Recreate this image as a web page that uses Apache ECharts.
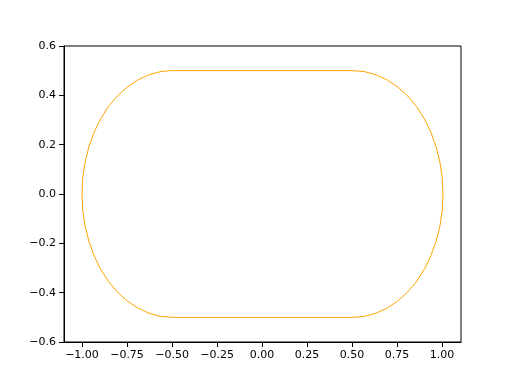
<!DOCTYPE html>
<html>
<head>
<meta charset="utf-8">
<script src="https://cdn.jsdelivr.net/npm/echarts@6/dist/echarts.min.js"></script>
<style>html,body{margin:0;padding:0;background:#fff}#c{width:512px;height:384px}</style>
</head>
<body>
<div id="c"></div>
<script>
// Outline points, in drawing order
var pathX = [-0.5, 0.505,
  0.505, 0.570, 0.634, 0.696, 0.755, 0.809, 0.859, 0.902, 0.938, 0.967, 0.988, 1.001, 1.005,
  1.001, 0.988, 0.967, 0.938, 0.902, 0.859, 0.809, 0.755, 0.696, 0.634, 0.570, 0.505,
  -0.5,
  -0.565, -0.629, -0.691, -0.75, -0.804, -0.854, -0.897, -0.933, -0.962, -0.983, -0.996, -1.0,
  -0.996, -0.983, -0.962, -0.933, -0.897, -0.854, -0.804, -0.75, -0.691, -0.629, -0.565, -0.51, -0.5];
var pathY = [0.5, 0.5,
  0.503, 0.496, 0.483, 0.462, 0.433, 0.397, 0.354, 0.304, 0.25, 0.191, 0.129, 0.065, 0.0,
  -0.065, -0.129, -0.191, -0.25, -0.304, -0.354, -0.397, -0.433, -0.462, -0.483, -0.496, -0.5,
  -0.5,
  -0.496, -0.483, -0.462, -0.433, -0.397, -0.354, -0.304, -0.25, -0.191, -0.129, -0.065, 0.0,
  0.065, 0.129, 0.191, 0.25, 0.304, 0.354, 0.397, 0.433, 0.462, 0.483, 0.496, 0.5, 0.5];
var xTicks = [-1.0, -0.75, -0.5, -0.25, 0.0, 0.25, 0.5, 0.75, 1.0];
var yTicks = [-0.6, -0.4, -0.2, 0.0, 0.2, 0.4, 0.6];

var pts = pathX.map(function (x, i) { return [x, pathY[i]]; });
function fmt(v, d) { var s = Math.abs(v).toFixed(d); return (v < -1e-9 ? '\u2212' : '') + s; }
var font = 'DejaVu Sans';
var chart = echarts.init(document.getElementById('c'), null, {renderer: 'canvas'});
chart.setOption({
  animation: false,
  backgroundColor: '#fff',
  grid: {left: 64, right: 51, top: 46, bottom: 42, show: true, borderColor: '#000', borderWidth: 1, backgroundColor: 'transparent'},
  xAxis: {
    type: 'value', min: -1.1, max: 1.105,
    axisLine: {show: true, onZero: false, lineStyle: {color: '#000', width: 1}},
    axisTick: {show: true, inside: false, length: 5, lineStyle: {color: '#000'}, customValues: xTicks},
    axisLabel: {color: '#000', fontFamily: font, fontSize: 11, margin: 8, customValues: xTicks,
      formatter: function (v) { return fmt(v, 2); }},
    splitLine: {show: false}
  },
  yAxis: {
    type: 'value', min: -0.6, max: 0.6,
    axisLine: {show: true, onZero: false, lineStyle: {color: '#000', width: 1}},
    axisTick: {show: true, inside: false, length: 5, lineStyle: {color: '#000'}, customValues: yTicks},
    axisLabel: {color: '#000', fontFamily: font, fontSize: 11, margin: 8, customValues: yTicks,
      formatter: function (v) { return fmt(v, 1); }},
    splitLine: {show: false}
  },
  series: [{
    type: 'line', data: pts, showSymbol: false, symbol: 'none', smooth: false,
    lineStyle: {color: '#FFA500', width: 1}, clip: true
  }]
});
</script>
</body>
</html>
